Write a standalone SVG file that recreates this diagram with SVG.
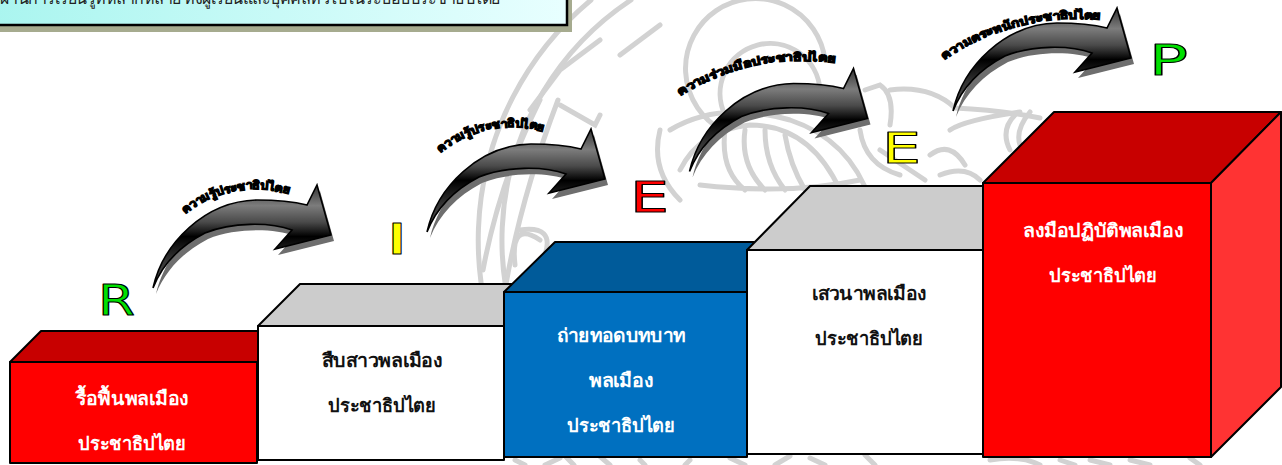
<svg xmlns="http://www.w3.org/2000/svg" xmlns:xlink="http://www.w3.org/1999/xlink" width="1282" height="465" viewBox="0 0 1282 465">
<style>
.wm{fill:none;stroke:#d2d2d2;stroke-width:5;stroke-linecap:round}
.edge{stroke:#000;stroke-width:2;stroke-linejoin:round}
.lab{font-family:"Liberation Sans","Noto Sans",sans-serif;font-size:18.6px;font-weight:bold;text-anchor:middle}
.w{fill:#fff}.k{fill:#111}
.letter{font-family:"DejaVu Sans",sans-serif;font-size:43px;stroke:#000;stroke-width:1.1px;stroke-linejoin:round}
.cv{font-family:"Liberation Sans","Noto Sans",sans-serif;font-size:11.5px;font-weight:bold;fill:#000;stroke:#000;stroke-width:1.2px}
</style>
<defs>
<linearGradient id="panel" x1="0" y1="0" x2="1" y2="0"><stop offset="0" stop-color="#a9f5ef"/><stop offset="1" stop-color="#e8ffff"/></linearGradient>
<linearGradient id="arr" x1="0" y1="0" x2="0" y2="1"><stop offset="0" stop-color="#333"/><stop offset=".2" stop-color="#7c7c7c"/><stop offset=".36" stop-color="#4a4a4a"/><stop offset=".5" stop-color="#000"/><stop offset=".72" stop-color="#333"/><stop offset="1" stop-color="#555"/></linearGradient>
<filter id="soft" x="-10%" y="-10%" width="120%" height="120%"><feGaussianBlur stdDeviation=".7"/></filter>
<path id="arrow" d="M153,288 C163,243 205,201 257,200 C275,200 295,202 307,205 L317,185 L331,235 L275,249 L292,230 C270,222 232,222 205,233 C180,246 162,265 153,288 Z"/>
<g id="arrowFull"><use xlink:href="#arrow" href="#arrow" transform="translate(3,6)" fill="#6e6e6e" filter="url(#soft)"/><use xlink:href="#arrow" href="#arrow" fill="url(#arr)" stroke="#000" stroke-width="1.6" stroke-linejoin="miter"/></g>
<path id="c1" d="M185,214 Q235,177 291,195"/>
<path id="c2" d="M440,153 Q490,116 545,132"/>
<path id="c3" d="M680,96 Q750,52 836,63"/>
<path id="c4" d="M944,60 Q1015,12 1102,20"/>
</defs>
<rect width="1282" height="465" fill="#fff"/>
<g id="watermark">
<path class="wm" d="M591,0 A312,312 0 0 0 574,465"/>
<path class="wm" d="M631,0 A288,288 0 0 0 610,465"/>
<path class="wm" d="M540,100 Q500,180 483,270 M558,100 Q520,200 505,290"/>
<path class="wm" d="M560,105 L595,125 L600,115 M530,110 L560,70 L600,40 M620,55 L660,25 M540,240 Q510,220 515,265 M520,230 Q555,225 545,255"/>
<path class="wm" d="M670,130 Q720,100 790,120 Q850,140 870,200 M680,170 Q700,130 750,125 Q810,125 840,190 M725,115 A50,50 0 1 1 820,90 M722,130 A70,70 0 1 1 825,60"/>
<path class="wm" d="M725,130 Q720,170 745,190 M745,130 Q740,165 765,190 M765,130 Q765,165 785,190 M785,135 Q790,165 805,190 M660,130 Q650,170 680,200 M700,185 Q790,195 860,180"/>
<path class="wm" d="M865,90 L880,85 Q895,95 890,125 M890,90 Q930,85 955,108 Q1000,110 1040,118 M880,150 L925,180 M860,130 Q865,165 900,175 M950,130 Q965,120 1020,112 M1015,115 Q1000,130 1010,150 M1030,112 Q1015,130 1020,145 M930,155 Q950,140 965,165 M940,175 Q965,165 980,180"/>
<path class="wm" d="M515,460 L525,465 M560,458 L545,465 M640,460 L645,465 M690,460 L685,465 M730,458 L745,465 M790,456 L775,465 M810,458 L825,465 M865,455 L875,465 M990,460 Q1020,455 1040,465 M1060,460 L1075,465 M1090,460 L1110,465 M1130,460 L1150,465 M1190,458 L1200,465"/>
</g>
<g id="panelBox">
<rect x="-6" y="-40" width="578" height="72" fill="#a6ab8f"/>
<rect x="-12" y="-46" width="579" height="71" fill="url(#panel)" stroke="#000" stroke-width="2.5"/>
<text x="0" y="4" font-family="Liberation Sans,Noto Sans,sans-serif" font-size="16" fill="#222" textLength="500">ผ่านการเรียนรู้ที่หลากหลาย ทั้งผู้เรียนและบุคคลทั่วไปในระบอบประชาธิปไตย</text>
</g>
<g id="box-r">
<polygon class="edge" points="10,362 41,331 258,331 258,362" fill="#c80000"/>
<rect class="edge" x="10" y="362" width="247" height="101" fill="#f00"/>
<text class="lab w" x="132" y="405" textLength="113" lengthAdjust="spacingAndGlyphs">รื้อฟื้นพลเมือง</text>
<text class="lab w" x="132" y="450" textLength="108" lengthAdjust="spacingAndGlyphs">ประชาธิปไตย</text>
</g>
<g id="box-i">
<polygon class="edge" points="258,326 300,284 520,284 504,326" fill="#ccc"/>
<rect class="edge" x="258" y="326" width="246" height="134" fill="#fff"/>
<text class="lab k" x="382" y="367" textLength="121" lengthAdjust="spacingAndGlyphs">สืบสาวพลเมือง</text>
<text class="lab k" x="382" y="412" textLength="108" lengthAdjust="spacingAndGlyphs">ประชาธิปไตย</text>
</g>
<g id="box-e1">
<polygon class="edge" points="504,292 555,242 754,242 747,292" fill="#005b9a"/>
<rect class="edge" x="504" y="292" width="243" height="165" fill="#0070c0"/>
<text class="lab w" x="621" y="342" textLength="129" lengthAdjust="spacingAndGlyphs">ถ่ายทอดบทบาท</text>
<text class="lab w" x="621" y="387" textLength="64" lengthAdjust="spacingAndGlyphs">พลเมือง</text>
<text class="lab w" x="621" y="432" textLength="108" lengthAdjust="spacingAndGlyphs">ประชาธิปไตย</text>
</g>
<g id="box-e2">
<polygon class="edge" points="747,250 810,186 1000,186 983,250" fill="#ccc"/>
<rect class="edge" x="747" y="250" width="236" height="204" fill="#fff"/>
<text class="lab k" x="869" y="300" textLength="115" lengthAdjust="spacingAndGlyphs">เสวนาพลเมือง</text>
<text class="lab k" x="869" y="345" textLength="108" lengthAdjust="spacingAndGlyphs">ประชาธิปไตย</text>
</g>
<g id="box-p">
<polygon class="edge" points="983,183 1054,112 1281,112 1211,183" fill="#c80000"/>
<polygon class="edge" points="1211,183 1281,112 1281,387 1211,457" fill="#f33"/>
<rect class="edge" x="983" y="183" width="228" height="274" fill="#f00"/>
<text class="lab w" x="1103" y="237" textLength="160" lengthAdjust="spacingAndGlyphs">ลงมือปฏิบัติพลเมือง</text>
<text class="lab w" x="1103" y="282" textLength="108" lengthAdjust="spacingAndGlyphs">ประชาธิปไตย</text>
</g>
<g id="connectors">
<use xlink:href="#arrowFull" href="#arrowFull"/>
<use xlink:href="#arrowFull" href="#arrowFull" transform="translate(274,-56)"/>
<use xlink:href="#arrowFull" href="#arrowFull" transform="translate(536.5,-116.5)"/>
<use xlink:href="#arrowFull" href="#arrowFull" transform="translate(800,-177)"/>
<text class="cv"><textPath xlink:href="#c1" href="#c1" textLength="110" lengthAdjust="spacingAndGlyphs">ความรู้ประชาธิปไตย</textPath></text>
<text class="cv"><textPath xlink:href="#c2" href="#c2" textLength="110" lengthAdjust="spacingAndGlyphs">ความรู้ประชาธิปไตย</textPath></text>
<text class="cv"><textPath xlink:href="#c3" href="#c3" textLength="162" lengthAdjust="spacingAndGlyphs">ความร่วมมือประชาธิปไตย</textPath></text>
<text class="cv"><textPath xlink:href="#c4" href="#c4" textLength="165" lengthAdjust="spacingAndGlyphs">ความตระหนักประชาธิปไตย</textPath></text>
</g>
<g id="letters">
<text class="letter" x="98" y="315" fill="#00e000" textLength="37" lengthAdjust="spacingAndGlyphs">R</text>
<text class="letter" x="389" y="254" fill="#ff0" font-weight="bold">I</text>
<text class="letter" x="630" y="212" fill="#f00" textLength="39" lengthAdjust="spacingAndGlyphs">E</text>
<text class="letter" x="882" y="163" fill="#ff0" textLength="39" lengthAdjust="spacingAndGlyphs">E</text>
<text class="letter" x="1149" y="75" fill="#00e000" textLength="39" lengthAdjust="spacingAndGlyphs">P</text>
</g>
</svg>
